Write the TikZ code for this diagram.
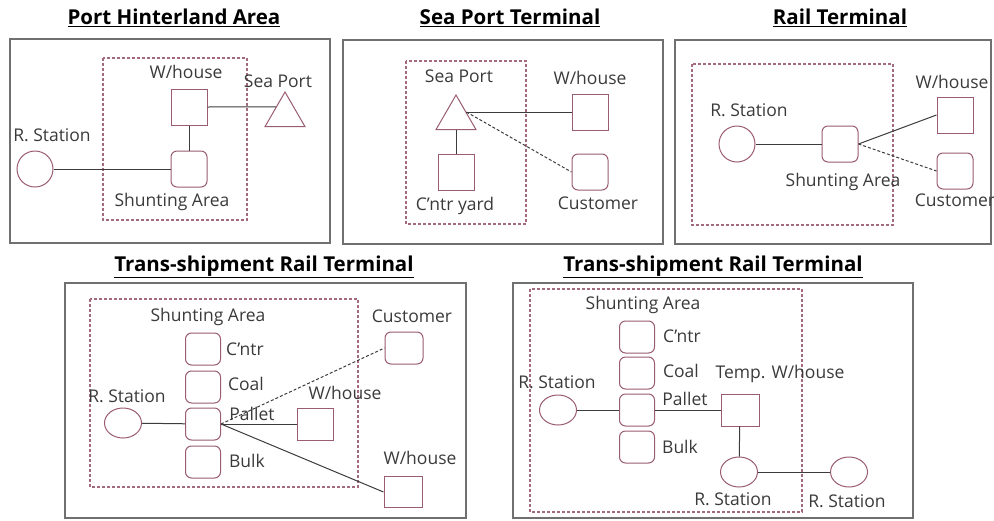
\documentclass[tikz,border=0pt]{standalone}
\usepackage{fontspec}
\setmainfont{Open Sans}
\usetikzlibrary{shapes.geometric, calc}
\definecolor{nodeedge}{HTML}{9A5C70}
\definecolor{zoneedge}{HTML}{A36A7C}
\definecolor{framegray}{HTML}{707070}
\definecolor{wire}{HTML}{3C3C3C}
\definecolor{labeltext}{HTML}{3A3A3A}

\begin{document}
\begin{tikzpicture}[x=1pt, y=-1pt,
    every node/.style={font=\fontsize{17.5}{19}\selectfont, text=labeltext, inner sep=0pt},
    ttl/.style={font=\fontsize{20.5}{22}\selectfont\bfseries, text=black},
    frm/.style={draw=framegray, line width=1.4pt},
    zn/.style={draw=zoneedge, line width=1.3pt, dash pattern=on 3pt off 2pt},
    sq/.style={draw=nodeedge, line width=1pt, minimum width=36pt, minimum height=36pt},
    rsq/.style={sq, rounded corners=6pt},
    colsq/.style={rsq, minimum width=35pt, minimum height=32pt},
    stn/.style={draw=nodeedge, line width=1pt, circle, minimum size=36pt},
    ell/.style={draw=nodeedge, line width=1pt, ellipse, minimum width=37pt, minimum height=30pt},
    port/.style={draw=nodeedge, line width=1pt, regular polygon, regular polygon sides=3, minimum size=46pt},
    link/.style={draw=wire, line width=1pt},
    dlink/.style={link, dash pattern=on 3pt off 2pt}
]
    \useasboundingbox (0,0) rectangle (994,520);

    % Port Hinterland Area
    \node[ttl] (t1) at (174,18) {\underline{Port Hinterland Area}};
    \draw[frm] (10,39) rectangle (330,243);
    \draw[zn] (103,58) rectangle (247,220);
    \node[sq] (wh1) at (189,107) {};
    \node[rsq] (sh1) at (189,169) {};
    \node[stn] (rs1) at (35,169) {};
    \node[port] (sp1) at (285,115) {};
    \coordinate (sp1in) at ($(sp1.corner 1)!0.44!(sp1.corner 2)$);
    \node (lwh1) at (186,72) {W/house};
    \node (lsp1) at (278,81) {Sea Port};
    \node (lrs1) at (52,135) {R. Station};
    \node (lsh1) at (172,202) {Shunting Area};
    \draw[link] (rs1) -- (sh1);
    \draw[link] (wh1) -- (sh1);
    \draw[link] (wh1.east) -- (sp1in);

    % Sea Port Terminal
    \node[ttl] (t2) at (510,18) {\underline{Sea Port Terminal}};
    \draw[frm] (343,40) rectangle (663,244);
    \draw[zn] (406,61) rectangle (526,224);
    \node[port] (sp2) at (456,118) {};
    \coordinate (sp2in) at ($(sp2.corner 1)!0.5!(sp2.corner 3)$);
    \node[sq] (yd2) at (456,172) {};
    \node[sq] (wh2) at (590,112) {};
    \node[rsq] (cu2) at (590,172) {};
    \node (lsp2) at (459,76) {Sea Port};
    \node (lyd2) at (455,206) {C'ntr yard};
    \node (lwh2) at (590,78) {W/house};
    \node (lcu2) at (598,203) {Customer};
    \draw[link] (sp2) -- (yd2);
    \draw[link] (sp2in) -- (wh2.west);
    \draw[dlink] (sp2in) -- (cu2.west);

    % Rail Terminal
    \node[ttl] (t3) at (840,18) {\underline{Rail Terminal}};
    \draw[frm] (675,40) rectangle (991,244);
    \draw[zn] (692,64) rectangle (893,225);
    \node[stn] (rs3) at (737,144) {};
    \node[rsq] (sh3) at (840,144) {};
    \node[sq] (wh3) at (955,115) {};
    \node[rsq] (cu3) at (955,171) {};
    \node (lrs3) at (749,110) {R. Station};
    \node (lsh3) at (843,182) {Shunting Area};
    \node (lwh3) at (952,82) {W/house};
    \node (lcu3) at (955,200) {Customer};
    \draw[link] (rs3) -- (sh3);
    \draw[link] (sh3.east) -- (wh3.west);
    \draw[dlink] (sh3.east) -- (cu3.west);

    % Trans-shipment Rail Terminal (left)
    \node[ttl] (t4) at (264,267) {\underline{Trans-shipment Rail Terminal}};
    \draw[frm] (65,283) rectangle (466,518);
    \draw[zn] (90,299) rectangle (358,487);
    \node (lsh4) at (208,317) {Shunting Area};
    \node[colsq] (cn4) at (203,349) {};
    \node[colsq] (co4) at (203,387) {};
    \node[colsq] (pa4) at (203,424) {};
    \node[colsq] (bu4) at (203,462) {};
    \node (lcn4) at (245,349) {C'ntr};
    \node (lco4) at (246,384) {Coal};
    \node (lpa4) at (252,414) {Pallet};
    \node (lbu4) at (247,461) {Bulk};
    \node[ell] (rs4) at (123,423) {};
    \node (lrs4) at (127,396) {R. Station};
    \node[sq, minimum height=32pt] (wa4) at (315,424) {};
    \node (lwa4) at (345,393) {W/house};
    \node[rsq, minimum width=38pt, minimum height=32pt] (cu4) at (404,348) {};
    \node (lcu4) at (412,316) {Customer};
    \node[sq, minimum width=38pt, minimum height=31pt] (wb4) at (403,492) {};
    \node (lwb4) at (420,458) {W/house};
    \draw[link] (rs4) -- (pa4);
    \draw[link] (pa4.east) -- (wa4.west);
    \draw[dlink] (pa4.east) -- (cu4.west);
    \draw[link] (pa4.east) -- (wb4.west);

    % Trans-shipment Rail Terminal (right)
    \node[ttl] (t5) at (713,267) {\underline{Trans-shipment Rail Terminal}};
    \draw[frm] (513,283) rectangle (913,518);
    \draw[zn] (530,289) rectangle (802,512);
    \node (lsh5) at (643,305) {Shunting Area};
    \node[colsq] (cn5) at (637,337) {};
    \node[colsq] (co5) at (637,373) {};
    \node[colsq] (pa5) at (637,410) {};
    \node[colsq] (bu5) at (637,447) {};
    \node (lcn5) at (682,336) {C'ntr};
    \node (lco5) at (681,371) {Coal};
    \node (lpa5) at (685,399) {Pallet};
    \node (lbu5) at (680,447) {Bulk};
    \node[ell] (rsa5) at (558,410) {};
    \node (lrsa5) at (557,382) {R. Station};
    \node[sq, minimum width=38pt, minimum height=32pt] (tw5) at (740,410) {};
    \node (ltw5) at (780,374) {Temp. W/house};
    \node[ell] (rsb5) at (739,472) {};
    \node (lrsb5) at (733,499) {R. Station};
    \node[ell] (rsc5) at (849,472) {};
    \node (lrsc5) at (847,501) {R. Station};
    \draw[link] (rsa5) -- (pa5);
    \draw[link] (pa5) -- (tw5);
    \draw[link] (tw5) -- (rsb5);
    \draw[link] (rsb5) -- (rsc5);
\end{tikzpicture}
\end{document}
